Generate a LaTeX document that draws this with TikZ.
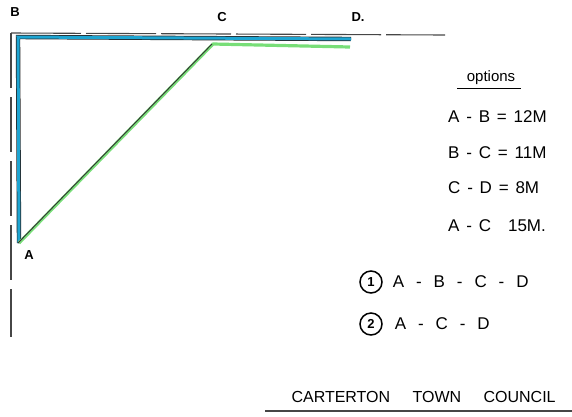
\documentclass[tikz,border=0pt]{standalone}
\usepackage{fontspec}
\setmainfont{Liberation Sans}
\usetikzlibrary{positioning}
\definecolor{pipeblue}{RGB}{30,165,210}
\definecolor{pipegreen}{RGB}{120,222,120}
\definecolor{inkgrey}{RGB}{70,70,70}
\newcommand{\gap}{\hspace{0.4em}}
\newcommand{\wgap}{\hspace{0.7em}}
\begin{document}
\begin{tikzpicture}[x=1pt,y=-1pt,
    boundary/.style={draw=inkgrey,line width=1.1pt,dash pattern=on 70pt off 5pt},
    corner label/.style={font=\bfseries\fontsize{13}{13}\selectfont,inner sep=1pt},
    option line/.style={font=\fontsize{17}{17}\selectfont,anchor=west,inner sep=1pt},
    choice/.style={circle,draw,line width=1.5pt,minimum size=22pt,inner sep=0pt,
                   font=\bfseries\fontsize{13}{13}\selectfont}]

  \useasboundingbox (0,0) rectangle (572,416);

  % site corners
  \coordinate (A) at (19,243);
  \coordinate (B) at (18,37);
  \coordinate (C) at (213,44);
  \coordinate (D) at (351,39);
  \coordinate (D2) at (350,47);
  \coordinate (top left) at (11,33);
  \coordinate (top right) at (445,35);
  \coordinate (left end) at (11,337);

  % boundary
  \draw[boundary] (top left) -- (top right);
  \draw[boundary,dash pattern=on 55pt off 9pt] (top left) -- (left end);

  % route 1
  \draw[draw=black!85,double=pipeblue,double distance=3pt,line width=0.7pt]
    (A) -- (B) -- (D);

  % route 2
  \draw[pipegreen,line width=3.2pt,line join=round] (A) -- (C) -- (D2);
  \draw[black!80,line width=0.9pt] ([xshift=-1pt]A) -- ([xshift=-1pt]C);

  \node[corner label] (lb) at (15,12) {B};
  \node[corner label] (lc) at (222,17) {C};
  \node[corner label] (ld) at (358,17) {D.};
  \node[corner label] (la) at (29,255) {A};

  % options
  \node[font=\fontsize{15}{15}\selectfont] (opt) at (491,78) {options};
  \draw[line width=1.2pt] ([xshift=-6pt]opt.south west) -- ([xshift=2pt]opt.south east);
  \node[option line] (ab) at (447,117) {A\gap-\gap B\gap=\gap 12M};
  \node[option line] (bc) at (447,153) {B\gap-\gap C\gap=\gap 11M};
  \node[option line] (cd) at (447,188) {C\gap-\gap D\gap=\gap 8M};
  \node[option line] (ac) at (447,226) {A\gap-\gap C\quad 15M.};

  \node[choice] (one) at (371,282) {1};
  \node[option line,right=9pt of one] (r1) {A\wgap-\wgap B\wgap-\wgap C\wgap-\wgap D};
  \node[choice] (two) at (371,324) {2};
  \node[option line,right=11pt of two] (r2) {A\wgap-\wgap C\wgap-\wgap D};

  \node[font=\fontsize{16}{16}\selectfont,anchor=west] (council) at (288,397)
    {CARTERTON\hspace{1.4em}TOWN\hspace{1.4em}COUNCIL};
  \coordinate (rule start) at (265,411);
  \coordinate (rule end) at (572,411);
  \draw[inkgrey,line width=1.2pt] (rule start) -- (rule end);

\end{tikzpicture}
\end{document}
